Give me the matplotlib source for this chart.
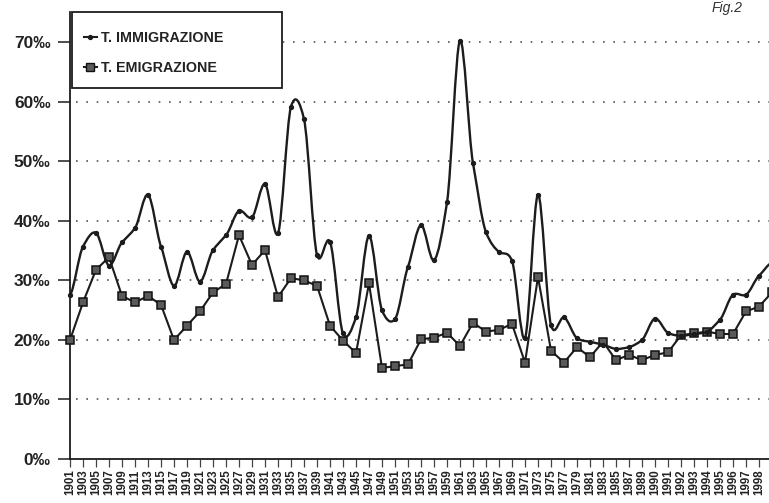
import matplotlib
matplotlib.use('Agg')
import matplotlib.pyplot as plt
from matplotlib.path import Path
from matplotlib.patches import PathPatch, Rectangle
from matplotlib.lines import Line2D
import numpy as np

plt.rcParams['font.family'] = ['Liberation Sans', 'DejaVu Sans']
plt.rcParams['font.weight'] = 'bold'

# anni: dispari fino al 1989, poi annuali (il 1999 esce dal bordo destro)
years = [str(y) for y in range(1901, 1990, 2)] + [str(y) for y in range(1990, 2000)]

immigrazione = [27.5, 35.7, 38.0, 32.5, 36.4, 38.8, 44.4, 35.7, 29.1, 34.8,
                29.8, 35.1, 37.6, 41.7, 40.6, 46.2, 37.9, 59.2, 57.1, 34.3,
                36.5, 21.1, 23.8, 37.5, 25.0, 23.5, 32.3, 39.3, 33.4, 43.1,
                70.3, 49.7, 38.1, 34.8, 33.3, 20.3, 44.4, 22.5, 23.8, 20.3,
                19.7, 19.2, 18.5, 18.8, 20.0, 23.6, 21.2, 20.7, 21.0, 21.4,
                23.4, 27.6, 27.6, 30.8, 33.0]

emigrazione = [20.0, 26.3, 31.8, 33.9, 27.4, 26.3, 27.4, 25.9, 20.0, 22.4,
               24.8, 28.0, 29.4, 37.6, 32.6, 35.1, 27.2, 30.4, 30.0, 29.1,
               22.4, 19.9, 17.8, 29.5, 15.3, 15.6, 15.9, 20.1, 20.4, 21.2,
               19.0, 22.9, 21.4, 21.7, 22.7, 16.2, 30.6, 18.2, 16.2, 18.8,
               17.1, 19.7, 16.6, 17.5, 16.6, 17.5, 17.9, 20.8, 21.1, 21.4,
               21.0, 21.0, 24.8, 25.6, 28.0]

yticks = [0, 10, 20, 30, 40, 50, 60, 70]
ink = '#1c1c1c'

fig = plt.figure(figsize=(7.69, 5.03), dpi=100)
ax = fig.add_axes([70 / 769, 44 / 503, 699 / 769, 447 / 503])

x = np.arange(len(years))
imm = np.array(immigrazione)

# curva smussata (Catmull-Rom -> bezier) per il tasso di immigrazione
verts = [(x[0], imm[0])]
codes = [Path.MOVETO]
k = 8.0
for i in range(len(x) - 1):
    p0 = imm[max(i - 1, 0)]
    p3 = imm[min(i + 2, len(x) - 1)]
    c1 = (x[i] + 1 / 3, imm[i] + (imm[i + 1] - p0) / k)
    c2 = (x[i + 1] - 1 / 3, imm[i + 1] - (p3 - imm[i]) / k)
    verts += [c1, c2, (x[i + 1], imm[i + 1])]
    codes += [Path.CURVE4] * 3
ax.add_patch(PathPatch(Path(verts, codes), fill=False, edgecolor=ink, lw=1.7, zorder=4))
ax.plot(x, imm, ls='none', marker='o', ms=2.8, color=ink, zorder=5, clip_on=False)

ax.plot(x, emigrazione, color=ink, lw=1.5, marker='s', ms=5.4,
        markerfacecolor='#5a5a5a', markeredgecolor='#111111', markeredgewidth=1.1,
        zorder=3, clip_on=False)

for v in yticks[1:]:
    ax.axhline(v, xmin=0.008, color='#555555', lw=1.2, ls=(0, (1, 5.2)), zorder=1)

ax.set_xlim(0, 53.77)
ax.set_ylim(0, 75.1)
ax.set_yticks(yticks)
ax.set_yticklabels(['{}‰'.format(v) for v in yticks], fontsize=12.5, fontweight='bold', color='#222222')
ax.set_xticks(x[:-1])
ax.set_xticklabels(years[:-1], rotation=90, fontsize=8.3, fontweight='bold', color='#222222')
ax.tick_params(axis='y', length=9, width=1.1, pad=5, color=ink)
ax.tick_params(axis='x', length=6, width=0.9, pad=1.5, color='#444444')

for s in ['top', 'right']:
    ax.spines[s].set_visible(False)
for s in ['left', 'bottom']:
    ax.spines[s].set_color(ink)
    ax.spines[s].set_linewidth(1.3)

# riquadro della legenda
fig.patches.append(Rectangle((72 / 769, 415 / 503), 210 / 769, 76 / 503,
                             transform=fig.transFigure, facecolor='white',
                             edgecolor=ink, lw=1.3, zorder=10))
handles = [Line2D([], [], color=ink, lw=1.5, marker='o', ms=2.8),
           Line2D([], [], color=ink, lw=1.5, marker='s', ms=5.4,
                  markerfacecolor='#5a5a5a', markeredgecolor='#111111')]
leg = fig.legend(handles, ['T. IMMIGRAZIONE', 'T. EMIGRAZIONE'],
                 loc='upper left', bbox_to_anchor=(84 / 769, 1 - 31 / 503),
                 frameon=False, fontsize=10.3, handlelength=0.9, handletextpad=0.3,
                 labelspacing=1.1, borderpad=0, borderaxespad=0)
leg.set_zorder(11)
for t in leg.get_texts():
    t.set_fontweight('bold')
    t.set_color('#222222')

fig.text(0.925, 0.998, 'Fig.2', style='italic', fontsize=10, fontweight='normal',
         color='#333333', va='top')

plt.savefig('out.png', dpi=100, facecolor='white')
plt.close()
